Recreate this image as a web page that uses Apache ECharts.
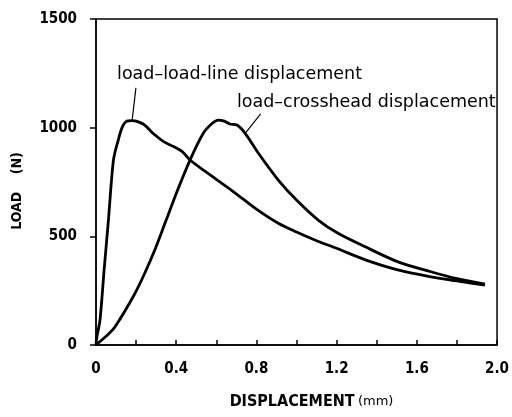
<!DOCTYPE html>
<html>
<head>
<meta charset="utf-8">
<script src="https://cdn.jsdelivr.net/npm/echarts@6/dist/echarts.min.js"></script>
<style>
  html, body { margin: 0; padding: 0; background: #fff; }
  #chart { width: 512px; height: 417px; }
</style>
</head>
<body>
<div id="chart"></div>
<script>
// load vs load-line displacement (mm, N)
const loadLineX = [0, 0.005, 0.02, 0.04, 0.062, 0.087, 0.111, 0.13, 0.15, 0.18, 0.2, 0.243, 0.284, 0.337, 0.387, 0.43, 0.469, 0.55, 0.686, 0.8, 0.909, 1.0, 1.1, 1.2, 1.34, 1.5, 1.67, 1.8, 1.94]
const loadLineY = [0, 40, 115, 340, 575, 851, 943, 1000, 1028, 1032, 1030, 1012, 974, 936, 913, 890, 851, 795, 705, 625, 560, 520, 480, 445, 393, 347, 314, 295, 275]
// load vs crosshead displacement
const crossheadX = [0, 0.05, 0.095, 0.19, 0.243, 0.293, 0.35, 0.41, 0.469, 0.535, 0.58, 0.61, 0.64, 0.667, 0.703, 0.744, 0.81, 0.909, 1.0, 1.108, 1.207, 1.34, 1.5, 1.67, 1.8, 1.94]
const crossheadY = [0, 40, 84, 230, 330, 437, 575, 720, 851, 974, 1020, 1035, 1030, 1017, 1012, 974, 882, 759, 667, 575, 514, 453, 385, 337, 305, 280]

const xTicks = [0, 0.4, 0.8, 1.2, 1.6, 2.0]
const yTicks = [0, 500, 1000, 1500]

// annotation text + leader lines (data coords)
const notes = [
  { text: 'load–load-line displacement', at: [0.105, 1247], leader: [[0.18, 1032], [0.199, 1183]] },
  { text: 'load–crosshead displacement', at: [0.703, 1118], leader: [[0.746, 976], [0.821, 1063]] }
]

const condensed = "'Liberation Sans Narrow', 'DejaVu Sans Condensed', 'Roboto', sans-serif"
const plain = "'DejaVu Sans', sans-serif"

const chart = echarts.init(document.getElementById('chart'))

const pairs = (xs, ys) => xs.map((x, i) => [x, ys[i]])

const option = {
  animation: false,
  grid: { left: 96, right: 11, top: 19, bottom: 72, show: true, borderColor: '#000', borderWidth: 1.5 },
  xAxis: {
    type: 'value',
    min: 0,
    max: 2.0,
    interval: 0.4,
    axisLine: { lineStyle: { color: '#000', width: 1.5 } },
    axisTick: { inside: true, length: 5, lineStyle: { color: '#000', width: 1.5 } },
    minorTick: { show: true, splitNumber: 2, length: 5, lineStyle: { color: '#000', width: 1.5 } },
    splitLine: { show: false },
    axisLabel: {
      margin: 17,
      color: '#000',
      fontFamily: condensed,
      fontWeight: 'bold',
      fontSize: 15,
      formatter: (v) => (xTicks.includes(+v.toFixed(1)) ? (v === 0 ? '0' : v.toFixed(1)) : '')
    },
    name: '{b|DISPLACEMENT} {n|(mm)}',
    nameLocation: 'middle',
    nameGap: 49,
    nameTextStyle: {
      padding: [0, 0, 0, 30],
      rich: {
        b: { fontFamily: condensed, fontWeight: 'bold', fontSize: 16, color: '#000' },
        n: { fontFamily: plain, fontSize: 13, color: '#000' }
      }
    }
  },
  yAxis: {
    type: 'value',
    min: 0,
    max: 1500,
    interval: 500,
    axisLine: { show: true, lineStyle: { color: '#000', width: 1.5 } },
    axisTick: { show: true, length: 6, lineStyle: { color: '#000', width: 1.5 } },
    splitLine: { show: false },
    axisLabel: {
      margin: 19,
      color: '#000',
      fontFamily: condensed,
      fontWeight: 'bold',
      fontSize: 15,
      formatter: (v) => (yTicks.includes(v) ? String(v) : '')
    },
    name: 'LOAD    (N)',
    nameLocation: 'middle',
    nameGap: 72,
    nameRotate: 90,
    nameTextStyle: {
      color: '#000',
      fontFamily: condensed,
      fontWeight: 'bold',
      fontSize: 14,
      padding: [0, 18, 0, 0]
    }
  },
  series: [
    {
      name: 'load-line',
      type: 'line',
      data: pairs(loadLineX, loadLineY),
      smooth: 0.3,
      showSymbol: false,
      lineStyle: { color: '#000', width: 2.8 },
      markLine: {
        silent: true,
        symbol: 'none',
        label: { show: false },
        lineStyle: { color: '#000', width: 1.2, type: 'solid' },
        data: [[{ coord: notes[0].leader[0] }, { coord: notes[0].leader[1] }]]
      }
    },
    {
      name: 'crosshead',
      type: 'line',
      data: pairs(crossheadX, crossheadY),
      smooth: 0.3,
      showSymbol: false,
      lineStyle: { color: '#000', width: 2.8 },
      markLine: {
        silent: true,
        symbol: 'none',
        label: { show: false },
        lineStyle: { color: '#000', width: 1.2, type: 'solid' },
        data: [[{ coord: notes[1].leader[0] }, { coord: notes[1].leader[1] }]]
      }
    }
  ]
}
chart.setOption(option)

// place the two annotation texts from their data anchors
chart.setOption({
  graphic: notes.map((n) => {
    const p = chart.convertToPixel({ gridIndex: 0 }, n.at)
    return {
      type: 'text',
      x: p[0],
      y: p[1],
      style: {
        text: n.text,
        fill: '#000',
        font: "17.5px 'DejaVu Sans', sans-serif",
        textVerticalAlign: 'middle'
      }
    }
  })
})
</script>
</body>
</html>
